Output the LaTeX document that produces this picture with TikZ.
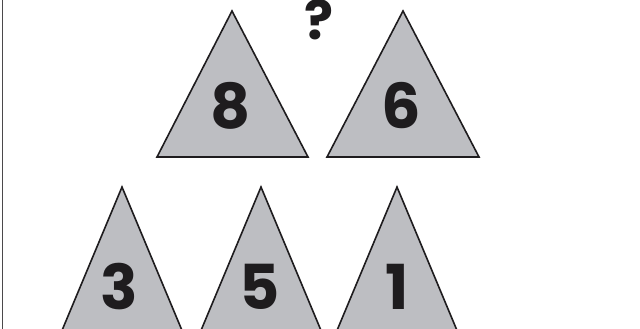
\documentclass[tikz,border=0pt]{standalone}
\usepackage{fontspec}
\setmainfont{Poppins}
\definecolor{trifill}{RGB}{189,190,194}
\definecolor{ink}{RGB}{30,28,30}
\begin{document}
\begin{tikzpicture}[x=1pt,y=-1pt,
  tri/.style={draw=ink,fill=trifill,line width=1.6pt,line join=miter},
  num/.style={text=ink,font=\fontsize{62}{62}\selectfont\bfseries,inner sep=0pt,text height=32pt,text depth=0pt,anchor=base},
  qmark/.style={text=ink,font=\fontsize{54}{54}\selectfont\bfseries,inner sep=0pt,text height=30pt,text depth=0pt,anchor=base},
  frameline/.style={draw=ink!80,line width=1pt}]
\useasboundingbox (0,0) rectangle (640,329);
\draw[frameline] (2,0) -- (2,329);
% top row
\path[tri] (232,11) -- (308,157) -- (157,157) -- cycle;
\path[tri] (403,11) -- (479,157) -- (327,157) -- cycle;
% bottom row (extend below frame)
\begin{scope}
\clip (0,0) rectangle (640,329);
\path[tri] (122,187) -- (186,340) -- (58,340) -- cycle;
\path[tri] (261,187) -- (325,340) -- (197,340) -- cycle;
\path[tri] (397,187) -- (461,340) -- (333,340) -- cycle;
\end{scope}
\node[num] (n8) at (231,128) {8};
\node[num] (n6) at (401,128) {6};
\node[num] (n3) at (119,309) {3};
\node[num] (n5) at (260,309) {5};
\node[num] (n1) at (397,309) {1};
\node[qmark] (q) at (319,40) {?};
\end{tikzpicture}
\end{document}
